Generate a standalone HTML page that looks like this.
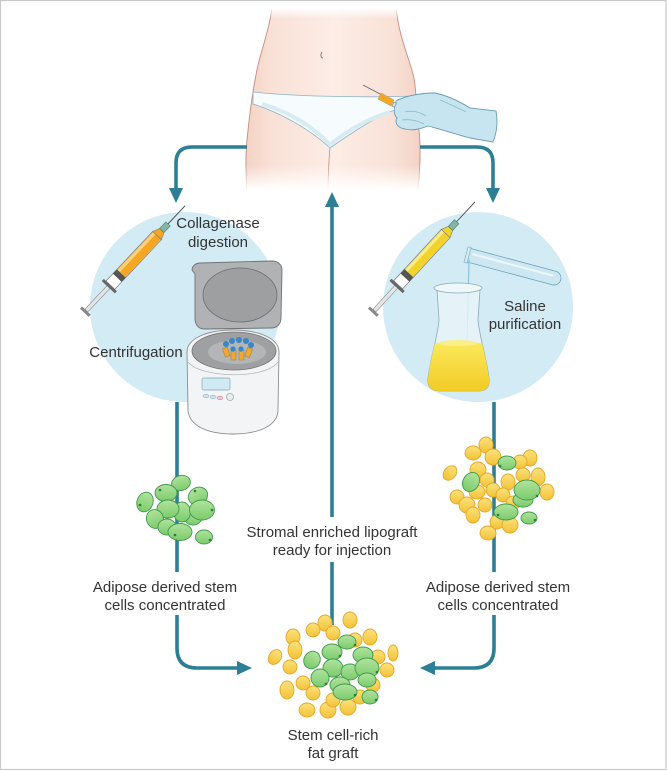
<!DOCTYPE html>
<html><head><meta charset="utf-8"><style>
html,body{margin:0;padding:0;background:#fff;}
svg{display:block;}
text{font-family:"Liberation Sans",sans-serif;font-size:15px;fill:#333;}
</style></head><body>
<svg width="667" height="771" viewBox="0 0 667 771" xmlns="http://www.w3.org/2000/svg">
<defs>
<linearGradient id="skinH" x1="0" x2="1" y1="0" y2="0">
<stop offset="0" stop-color="#f4d2c5"/><stop offset="0.15" stop-color="#f9e1d7"/><stop offset="0.5" stop-color="#fcede6"/><stop offset="0.85" stop-color="#f9e1d7"/><stop offset="1" stop-color="#f4d2c5"/>
</linearGradient>
<linearGradient id="mV" x1="0" y1="8" x2="0" y2="190" gradientUnits="userSpaceOnUse">
<stop offset="0" stop-color="#000"/><stop offset="0.06" stop-color="#fff"/><stop offset="0.86" stop-color="#fff"/><stop offset="1" stop-color="#000"/>
</linearGradient>
<mask id="torsoMask"><rect x="200" y="0" width="320" height="200" fill="url(#mV)"/></mask>
<linearGradient id="yel" x1="0" y1="0" x2="0" y2="1"><stop offset="0" stop-color="#fbe27d"/><stop offset="1" stop-color="#f3c236"/></linearGradient>
<linearGradient id="grn" x1="0" y1="0" x2="0" y2="1"><stop offset="0" stop-color="#b0e39d"/><stop offset="1" stop-color="#7ccb6c"/></linearGradient>
<clipPath id="flaskClip"><path d="M437,290 L439,320 C438,335 430,360 428,378 C427,388 432,391 440,391 L478,391 C486,391 490,388 489,378 C487,360 479,335 478,320 L480,290 Z"/></clipPath>
<linearGradient id="liq" x1="0" y1="0" x2="0" y2="1"><stop offset="0" stop-color="#fbe95a"/><stop offset="1" stop-color="#f0c419"/></linearGradient>
</defs>

<rect x="0.5" y="0.5" width="665.5" height="769" fill="#fff" stroke="#c8c8c8" stroke-width="1.2"/>

<!-- torso -->
<g mask="url(#torsoMask)">
<path d="M272,6 C270,30 259,55 256,75 C252,95 249,120 247,140 C245,160 246,178 247,192 L418,192 C420,170 421,148 419,130 C417,110 416,90 414,78 C410,60 398,35 396,6 Z" fill="url(#skinH)" stroke="#c98a82" stroke-width="0.9"/>
<path d="M330,147 C329,160 328,172 328,190" fill="none" stroke="#c98a82" stroke-width="0.8"/>
<path d="M322,52 C320,55 321,58 323,58" fill="none" stroke="#a66" stroke-width="0.9"/>
</g>
<!-- panty -->
<path d="M253,92 C290,96 360,98 415,96 L414,104 C405,106 395,110 387,113 C368,122 350,134 330,148 C312,131 282,113 253,104 Z" fill="#f6fbfd" stroke="#8fb2c2" stroke-width="0.8"/>
<path d="M262,104 C290,112 315,128 330,145 C345,132 365,120 390,112" fill="none" stroke="#d9ebf2" stroke-width="4"/>
<!-- syringe in hand -->
<line x1="363" y1="85" x2="382" y2="95" stroke="#666" stroke-width="0.8"/>
<path d="M381,93 L394,100 L391,106 L378,99 Z" fill="#f5a623" stroke="#8a6" stroke-width="0.5"/>
<path d="M394,102 L420,116 L418,120 L392,106 Z" fill="#e6eaeb" stroke="#777" stroke-width="0.6"/>
<!-- glove -->
<path d="M396,101 C405,96 420,93 435,93 C450,96 462,103 470,108 L496,111 C498,122 497,132 493,142 L470,138 C455,134 440,129 428,126 C420,129 413,131 405,129 C398,128 394,123 397,118 C393,114 394,107 396,104 Z" fill="#c7e5f1" stroke="#6b9db2" stroke-width="0.9"/>
<path d="M405,112 C412,110 420,112 426,116 M402,120 C410,119 418,121 424,124 M440,100 C450,104 458,108 466,112" fill="none" stroke="#8bb8cb" stroke-width="0.8"/>

<!-- arrows -->
<g stroke="#2d7f95" stroke-width="3.6" fill="none" stroke-linecap="butt">
<path d="M247,147 L192,147 Q176,147 176,163 L176,190"/>
<path d="M420,147 L477,147 Q493,147 493,163 L493,190"/>
<line x1="332" y1="205" x2="332" y2="517"/>
<line x1="332" y1="562" x2="332" y2="625"/>
<line x1="177" y1="402" x2="177" y2="572"/>
<path d="M177,615 L177,648 Q177,668 197,668 L240,668"/>
<line x1="494" y1="402" x2="494" y2="572"/>
<path d="M494,615 L494,648 Q494,668 474,668 L433,668"/>
</g>
<g fill="#2d7f95">
<polygon points="169,188 183,188 176,203"/>
<polygon points="486,188 500,188 493,203"/>
<polygon points="325,207 339,207 332,192"/>
<polygon points="237,661 237,675 252,668"/>
<polygon points="435,661 435,675 420,668"/>
</g>

<!-- circles -->
<circle cx="185" cy="307" r="95" fill="#d3ebf4"/>
<circle cx="478" cy="307" r="95" fill="#d3ebf4"/>

<!-- left syringe -->
<g transform="translate(85,312) rotate(-46.7)">
<rect x="-1" y="-6" width="3" height="12" fill="#888"/>
<rect x="2" y="-2" width="34" height="4" fill="#e3e6e7" stroke="#888" stroke-width="0.6"/>
<rect x="34" y="-9" width="3" height="18" fill="#666"/>
<rect x="37" y="-6" width="68" height="12" fill="#fff" stroke="#777" stroke-width="0.7"/>
<rect x="47" y="-6" width="6" height="12" fill="#555"/>
<rect x="53" y="-5.5" width="52" height="11" fill="#f5a623"/>
<rect x="53" y="-5" width="52" height="3" fill="#fbd27a"/>
<path d="M105,-6 L112,-3 L112,3 L105,6 Z" fill="#f5a623" stroke="#777" stroke-width="0.6"/>
<rect x="112" y="-3" width="9" height="6" fill="#86b5a4" stroke="#4d7a6a" stroke-width="0.6"/>
<line x1="121" y1="0" x2="146" y2="0" stroke="#444" stroke-width="0.9"/>
</g>
<!-- right syringe -->
<g transform="translate(373,312) rotate(-47.2)">
<rect x="-1" y="-6" width="3" height="12" fill="#888"/>
<rect x="2" y="-2" width="34" height="4" fill="#e3e6e7" stroke="#888" stroke-width="0.6"/>
<rect x="34" y="-9" width="3" height="18" fill="#666"/>
<rect x="37" y="-6" width="70" height="12" fill="#fff" stroke="#777" stroke-width="0.7"/>
<rect x="47" y="-6" width="6" height="12" fill="#555"/>
<rect x="53" y="-5.5" width="54" height="11" fill="#f1d32c"/>
<rect x="53" y="-5" width="54" height="3" fill="#f9ec8a"/>
<path d="M107,-6 L114,-3 L114,3 L107,6 Z" fill="#f1d32c" stroke="#777" stroke-width="0.6"/>
<rect x="114" y="-3" width="9" height="6" fill="#86b5a4" stroke="#4d7a6a" stroke-width="0.6"/>
<line x1="123" y1="0" x2="150" y2="0" stroke="#444" stroke-width="0.9"/>
</g>

<!-- centrifuge -->
<path d="M195,274 L192,270 C192,266 196,263 200,263 L272,261 C278,261 282,265 282,270 L281,318 C281,324 277,328 271,328 L204,329 C198,329 195,324 195,318 Z" fill="#b0b2b3" stroke="#6f7173" stroke-width="0.9"/>
<ellipse cx="240" cy="295" rx="37" ry="27" fill="#9d9fa1" stroke="#6a6c6e" stroke-width="0.8"/>
<path d="M187,352 C187,338 208,330 233,330 C258,330 279,338 279,352 L278,410 C278,425 260,434 233,434 C206,434 189,425 188,410 Z" fill="#f2f4f5" stroke="#8a8d8f" stroke-width="0.9"/>
<ellipse cx="234" cy="351" rx="42" ry="19" fill="#9ea0a2" stroke="#6f7173" stroke-width="0.8"/>
<ellipse cx="237" cy="352" rx="29" ry="12" fill="#b3b5b7"/>
<path d="M188,362 C200,378 265,380 278,362" fill="none" stroke="#b5b8ba" stroke-width="0.8"/>
<g>
<rect x="223" y="348" width="5" height="9" fill="#f0a830" stroke="#a0701c" stroke-width="0.4" transform="rotate(-20 225 350)"/>
<rect x="231" y="350" width="5" height="10" fill="#f0a830" stroke="#a0701c" stroke-width="0.4"/>
<rect x="239" y="350" width="5" height="10" fill="#f0a830" stroke="#a0701c" stroke-width="0.4"/>
<rect x="247" y="348" width="5" height="9" fill="#f0a830" stroke="#a0701c" stroke-width="0.4" transform="rotate(20 249 350)"/>
<circle cx="226" cy="344" r="3" fill="#3b86c6"/>
<circle cx="232" cy="341" r="3" fill="#3b86c6"/>
<circle cx="239" cy="340" r="3" fill="#3b86c6"/>
<circle cx="246" cy="341" r="3" fill="#3b86c6"/>
<circle cx="251" cy="345" r="3" fill="#3b86c6"/>
<circle cx="233" cy="349" r="2.6" fill="#3b86c6"/>
<circle cx="241" cy="349" r="2.6" fill="#3b86c6"/>
</g>
<rect x="202" y="378" width="28" height="12" rx="2" fill="#d0e9f3" stroke="#7aa6b8" stroke-width="0.7"/>
<ellipse cx="206" cy="396" rx="3" ry="1.8" fill="#cfe4ee" stroke="#7aa6b8" stroke-width="0.5"/>
<ellipse cx="213" cy="397" rx="3" ry="1.8" fill="#cfe4ee" stroke="#7aa6b8" stroke-width="0.5"/>
<ellipse cx="220" cy="398" rx="3" ry="1.8" fill="#f3c8d4" stroke="#a77" stroke-width="0.5"/>
<circle cx="230" cy="397" r="3.5" fill="#e8eef0" stroke="#888" stroke-width="0.6"/>

<!-- test tube & flask -->
<g transform="translate(468,255) rotate(15)">
<path d="M0,-7 L89,-7 A7,7 0 0 1 89,7 L0,7 Z" fill="#cde7f2" stroke="#6fa3ba" stroke-width="0.8"/>
<path d="M4,-2 L88,-2" stroke="#eef7fb" stroke-width="2"/>
<rect x="-2" y="-8" width="3" height="16" fill="#d8eef6" stroke="#6fa3ba" stroke-width="0.6"/>
</g>
<line x1="469" y1="259" x2="467" y2="346" stroke="#8cc3da" stroke-width="1.2"/>
<path d="M437,290 L439,320 C438,335 430,360 428,378 C427,388 432,391 440,391 L478,391 C486,391 490,388 489,378 C487,360 479,335 478,320 L480,290 Z" fill="#eaf5f9" fill-opacity="0.8" stroke="#8aa9b6" stroke-width="0.8"/>
<rect x="420" y="343" width="80" height="60" fill="url(#liq)" clip-path="url(#flaskClip)"/>
<ellipse cx="458" cy="343" rx="20" ry="3" fill="#fbef8a"/>
<ellipse cx="458" cy="288" rx="24" ry="5" fill="#eef7fa" stroke="#8aa9b6" stroke-width="0.8"/>

<!-- left green cluster -->
<g fill="url(#grn)" stroke="#3e9a4c" stroke-width="0.9">
<ellipse cx="193" cy="517" rx="9" ry="8"/>
<ellipse cx="181" cy="483" rx="9.5" ry="7.5" transform="rotate(-15 181 483)"/>
<ellipse cx="166" cy="493" rx="11" ry="8.5"/>
<ellipse cx="198" cy="496" rx="10" ry="8.5" transform="rotate(-30 198 496)"/>
<ellipse cx="145" cy="502" rx="8" ry="10" transform="rotate(20 145 502)"/>
<ellipse cx="182" cy="512" rx="8.5" ry="10"/>
<ellipse cx="168" cy="509" rx="11" ry="9"/>
<ellipse cx="202" cy="510" rx="12.5" ry="10"/>
<ellipse cx="155" cy="519" rx="8.5" ry="9.5" transform="rotate(-20 155 519)"/>
<ellipse cx="167" cy="527" rx="9" ry="8"/>
<ellipse cx="180" cy="532" rx="12" ry="8.5"/>
<ellipse cx="204" cy="537" rx="8.5" ry="7"/>
</g>
<g fill="#2e7d3a">
<circle cx="160" cy="490" r="1.3"/><circle cx="195" cy="491" r="1.3"/><circle cx="212" cy="510" r="1.3"/><circle cx="175" cy="535" r="1.3"/><circle cx="210" cy="540" r="1.3"/><circle cx="140" cy="505" r="1.3"/>
</g>

<!-- right cluster -->
<g fill="url(#yel)" stroke="#e2a82c" stroke-width="0.9">
<ellipse cx="486" cy="445" rx="7" ry="8"/>
<ellipse cx="473" cy="453" rx="8" ry="7"/>
<ellipse cx="493" cy="457" rx="8" ry="8"/>
<ellipse cx="530" cy="458" rx="7" ry="8"/>
<ellipse cx="520" cy="462" rx="7" ry="7"/>
<ellipse cx="450" cy="473" rx="6" ry="8" transform="rotate(40 450 473)"/>
<ellipse cx="478" cy="470" rx="8" ry="8"/>
<ellipse cx="538" cy="477" rx="7" ry="9"/>
<ellipse cx="487" cy="480" rx="7" ry="7"/>
<ellipse cx="508" cy="482" rx="7" ry="8"/>
<ellipse cx="523" cy="475" rx="7" ry="7"/>
<ellipse cx="547" cy="492" rx="7" ry="8"/>
<ellipse cx="457" cy="497" rx="7" ry="7"/>
<ellipse cx="477" cy="492" rx="8" ry="7"/>
<ellipse cx="493" cy="490" rx="7" ry="7"/>
<ellipse cx="503" cy="495" rx="7" ry="7"/>
<ellipse cx="467" cy="505" rx="8" ry="8"/>
<ellipse cx="485" cy="505" rx="7" ry="7"/>
<ellipse cx="513" cy="503" rx="7" ry="7"/>
<ellipse cx="473" cy="515" rx="7" ry="8"/>
<ellipse cx="497" cy="522" rx="7" ry="7"/>
<ellipse cx="510" cy="525" rx="8" ry="8"/>
<ellipse cx="488" cy="533" rx="8" ry="7"/>
</g>
<g fill="url(#grn)" stroke="#3e9a4c" stroke-width="0.9">
<ellipse cx="507" cy="463" rx="9" ry="7"/>
<ellipse cx="471" cy="482" rx="8" ry="10" transform="rotate(30 471 482)"/>
<ellipse cx="523" cy="500" rx="10" ry="7"/>
<ellipse cx="527" cy="490" rx="13" ry="10"/>
<ellipse cx="506" cy="512" rx="12" ry="8"/>
<ellipse cx="529" cy="518" rx="8" ry="6"/>
</g>
<g fill="#2e7d3a">
<circle cx="500" cy="466" r="1.3"/><circle cx="537" cy="496" r="1.3"/><circle cx="498" cy="515" r="1.3"/><circle cx="535" cy="520" r="1.3"/>
</g>

<!-- bottom cluster -->
<g fill="url(#yel)" stroke="#e2a82c" stroke-width="0.9">
<ellipse cx="350" cy="620" rx="7" ry="8"/>
<ellipse cx="325" cy="623" rx="7" ry="8"/>
<ellipse cx="293" cy="637" rx="7" ry="8"/>
<ellipse cx="313" cy="630" rx="7" ry="7"/>
<ellipse cx="333" cy="633" rx="7" ry="7"/>
<ellipse cx="370" cy="637" rx="7" ry="8"/>
<ellipse cx="275" cy="657" rx="6" ry="8" transform="rotate(35 275 657)"/>
<ellipse cx="295" cy="650" rx="7" ry="9"/>
<ellipse cx="393" cy="653" rx="5" ry="8"/>
<ellipse cx="378" cy="657" rx="7" ry="7"/>
<ellipse cx="387" cy="670" rx="7" ry="7"/>
<ellipse cx="290" cy="667" rx="7" ry="7"/>
<ellipse cx="287" cy="690" rx="7" ry="9"/>
<ellipse cx="303" cy="683" rx="7" ry="7"/>
<ellipse cx="313" cy="693" rx="7" ry="7"/>
<ellipse cx="307" cy="710" rx="8" ry="7"/>
<ellipse cx="328" cy="710" rx="8" ry="8"/>
<ellipse cx="348" cy="707" rx="8" ry="8"/>
<ellipse cx="373" cy="685" rx="7" ry="7"/>
<ellipse cx="360" cy="697" rx="7" ry="7"/>
<ellipse cx="333" cy="700" rx="7" ry="7"/>
<ellipse cx="355" cy="640" rx="7" ry="7"/>
</g>
<g fill="url(#grn)" stroke="#3e9a4c" stroke-width="0.9">
<ellipse cx="347" cy="642" rx="9" ry="7"/>
<ellipse cx="332" cy="652" rx="10" ry="8"/>
<ellipse cx="312" cy="660" rx="8" ry="9" transform="rotate(30 312 660)"/>
<ellipse cx="363" cy="655" rx="10" ry="8"/>
<ellipse cx="333" cy="668" rx="10" ry="9"/>
<ellipse cx="350" cy="672" rx="9" ry="8"/>
<ellipse cx="367" cy="668" rx="12" ry="10"/>
<ellipse cx="320" cy="678" rx="9" ry="9"/>
<ellipse cx="340" cy="685" rx="10" ry="8"/>
<ellipse cx="345" cy="692" rx="12" ry="8"/>
<ellipse cx="367" cy="680" rx="9" ry="7"/>
<ellipse cx="370" cy="697" rx="8" ry="7"/>
</g>
<g fill="#2e7d3a">
<circle cx="355" cy="645" r="1.3"/><circle cx="340" cy="656" r="1.3"/><circle cx="377" cy="672" r="1.3"/><circle cx="326" cy="684" r="1.3"/><circle cx="355" cy="695" r="1.3"/><circle cx="376" cy="700" r="1.3"/>
</g>

<!-- labels -->
<g text-anchor="middle">
<text x="218" y="228">Collagenase</text>
<text x="218" y="247">digestion</text>
<text x="136" y="357">Centrifugation</text>
<text x="525" y="311">Saline</text>
<text x="525" y="329">purification</text>
<text x="332" y="537">Stromal enriched lipograft</text>
<text x="332" y="555">ready for injection</text>
<text x="165" y="592">Adipose derived stem</text>
<text x="165" y="610">cells concentrated</text>
<text x="498" y="592">Adipose derived stem</text>
<text x="498" y="610">cells concentrated</text>
<text x="333" y="740">Stem cell-rich</text>
<text x="333" y="758">fat graft</text>
</g>
</svg>
</body></html>
